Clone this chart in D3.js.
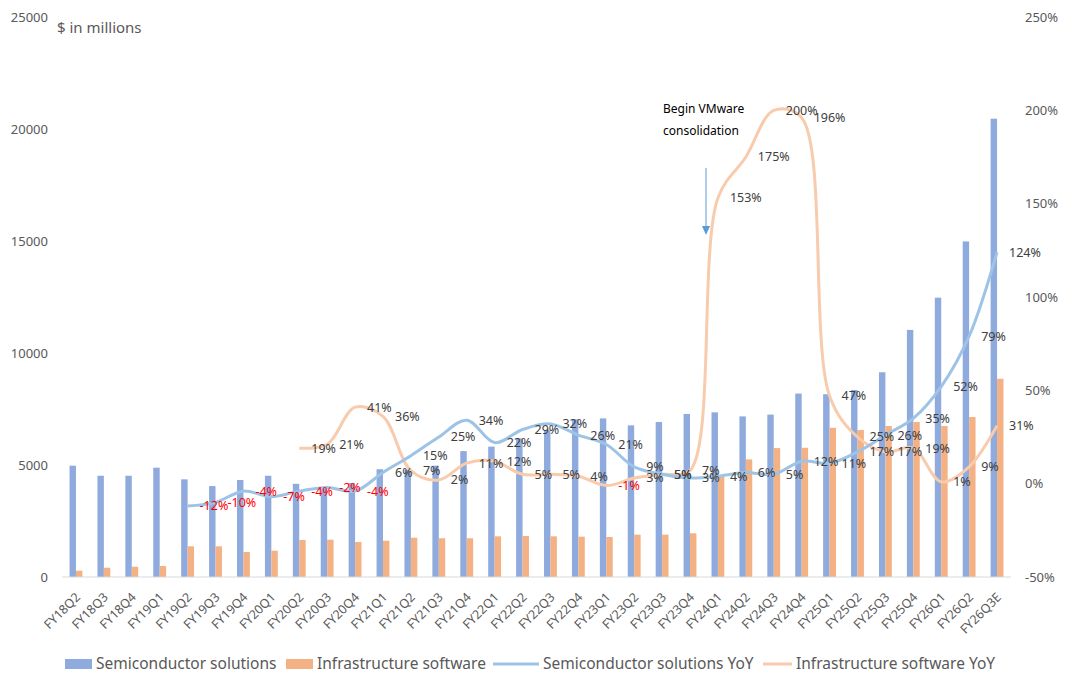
<!DOCTYPE html>
<html>
<head>
<meta charset="utf-8">
<script src="https://cdn.jsdelivr.net/npm/d3@7"></script>
<style>
  body { margin: 0; background: #fff; }
  text { font-family: "Noto Sans", "Open Sans", sans-serif; }
</style>
</head>
<body>
<div id="chart"></div>
<script>
// quarters on the x axis
var quarters = ["FY18Q2","FY18Q3","FY18Q4",
  "FY19Q1","FY19Q2","FY19Q3","FY19Q4",
  "FY20Q1","FY20Q2","FY20Q3","FY20Q4",
  "FY21Q1","FY21Q2","FY21Q3","FY21Q4",
  "FY22Q1","FY22Q2","FY22Q3","FY22Q4",
  "FY23Q1","FY23Q2","FY23Q3","FY23Q4",
  "FY24Q1","FY24Q2","FY24Q3","FY24Q4",
  "FY25Q1","FY25Q2","FY25Q3","FY25Q4",
  "FY26Q1","FY26Q2","FY26Q3E"];

// revenue, $ in millions
var semiRevenue = [4970,4520,4520,
  4880,4360,4060,4330,
  4520,4160,3990,4200,
  4810,4790,4970,5620,
  5820,6190,6550,7040,
  7080,6770,6920,7280,
  7350,7170,7250,8190,
  8160,8350,9140,11030,
  12470,14980,20460];

var softRevenue = [280,415,460,
  490,1370,1370,1115,
  1175,1650,1665,1560,
  1620,1755,1730,1730,
  1815,1830,1815,1800,
  1785,1890,1890,1950,
  4530,5250,5755,5770,
  6660,6560,6740,6920,
  6740,7140,8850];

// YoY growth in %, first value is for the start quarter
var semiYoyStart = "FY19Q2";
var semiYoy = [-12,-10,-4,
  -7,-4,-2,-4,
  6,15,25,34,
  22,29,32,26,
  21,9,5,3,
  4,6,5,12,
  11,17,26,35,
  52,79,124];

var softYoyStart = "FY20Q2";
var softYoy = [19,21,41,
  36,7,2,11,
  12,5,5,4,
  -1,3,5,7,
  153,175,200,196,
  47,25,17,19,
  1,9,31];

var leftTicks = [0,5000,10000,15000,20000,25000];
var rightTicks = [-50,0,50,100,150,200,250];

var width = 1080, height = 689;
var colors = {semi: "#8faadc", soft: "#f4b183", semiLine: "#9dc3e6", softLine: "#f8cbad"};

var svg = d3.select("#chart").append("svg")
    .attr("width", width)
    .attr("height", height);

var x = d3.scaleBand().domain(quarters).range([62, 1011]);
var yL = d3.scaleLinear().domain([0, 25000]).range([577, 17]);
var yR = d3.scaleLinear().domain([-50, 250]).range([577, 17]);

var bw = x.bandwidth() * 0.23;
function cx(q) { return x(q) + x.bandwidth() / 2; }

// tick labels
svg.append("g").selectAll("text")
    .data(leftTicks)
    .enter().append("text")
    .attr("x", 48)
    .attr("y", function(d) { return yL(d); })
    .attr("dy", "0.35em")
    .attr("text-anchor", "end")
    .style("font-size", "13px")
    .style("fill", "#595959")
    .text(function(d) { return d; });

svg.append("g").selectAll("text")
    .data(rightTicks)
    .enter().append("text")
    .attr("x", 1025)
    .attr("y", function(d) { return yR(d); })
    .attr("dy", "0.35em")
    .style("font-size", "13px")
    .style("fill", "#595959")
    .text(function(d) { return d + "%"; });

svg.append("text")
    .attr("x", 57)
    .attr("y", 28)
    .attr("dy", "0.35em")
    .style("font-size", "15px")
    .style("fill", "#595959")
    .text("$ in millions");

// bars
var bars = svg.append("g");
bars.selectAll("rect.semi")
    .data(quarters)
    .enter().append("rect")
    .attr("class", "semi")
    .attr("x", function(d) { return cx(d) - bw; })
    .attr("y", function(d, i) { return yL(semiRevenue[i]); })
    .attr("width", bw)
    .attr("height", function(d, i) { return yL(0) - yL(semiRevenue[i]); })
    .style("fill", colors.semi);

bars.selectAll("rect.soft")
    .data(quarters)
    .enter().append("rect")
    .attr("class", "soft")
    .attr("x", function(d) { return cx(d); })
    .attr("y", function(d, i) { return yL(softRevenue[i]); })
    .attr("width", bw)
    .attr("height", function(d, i) { return yL(0) - yL(softRevenue[i]); })
    .style("fill", colors.soft);

// x axis line
svg.append("line")
    .attr("x1", x.range()[0]).attr("x2", x.range()[1])
    .attr("y1", yL(0)).attr("y2", yL(0))
    .style("stroke", "#d9d9d9")
    .style("stroke-width", 1);

// x labels
svg.append("g").selectAll("text")
    .data(quarters)
    .enter().append("text")
    .attr("transform", function(d) { return "translate(" + (cx(d) + 5) + ",598) rotate(-45)"; })
    .attr("text-anchor", "end")
    .style("font-size", "12.5px")
    .style("fill", "#595959")
    .text(function(d) { return d; });

// YoY lines
function yoyPoints(start, vals) {
    var i0 = quarters.indexOf(start);
    return vals.map(function(v, i) { return {q: quarters[i0 + i], v: v}; });
}
var semiPts = yoyPoints(semiYoyStart, semiYoy);
var softPts = yoyPoints(softYoyStart, softYoy);

var line = d3.line()
    .x(function(d) { return cx(d.q); })
    .y(function(d) { return yR(d.v); })
    .curve(d3.curveCatmullRom.alpha(0.5));

svg.append("path")
    .datum(softPts)
    .attr("d", line)
    .style("fill", "none")
    .style("stroke", colors.softLine)
    .style("stroke-width", 3);

svg.append("path")
    .datum(semiPts)
    .attr("d", line)
    .style("fill", "none")
    .style("stroke", colors.semiLine)
    .style("stroke-width", 3);

// data labels, right of each point
function addLabels(pts) {
    svg.append("g").selectAll("text")
        .data(pts)
        .enter().append("text")
        .attr("x", function(d) { return cx(d.q) + 12; })
        .attr("y", function(d) { return yR(d.v); })
        .attr("dy", "0.35em")
        .style("font-size", "12.5px")
        .style("fill", function(d) { return d.v < 0 ? "#ff0000" : "#404040"; })
        .text(function(d) { return d.v + "%"; });
}
addLabels(softPts);
addLabels(semiPts);

// annotation
svg.append("text")
    .attr("x", 663).attr("y", 109)
    .attr("dy", "0.35em")
    .style("font-size", "12px")
    .style("fill", "#000")
    .text("Begin VMware");
svg.append("text")
    .attr("x", 663).attr("y", 131)
    .attr("dy", "0.35em")
    .style("font-size", "12px")
    .style("fill", "#000")
    .text("consolidation");

svg.append("line")
    .attr("x1", 706).attr("x2", 706)
    .attr("y1", 168).attr("y2", 227)
    .style("stroke", "#5b9bd5")
    .style("stroke-width", 1);
svg.append("path")
    .attr("d", "M702,226 L710,226 L706,235 Z")
    .style("fill", "#5b9bd5");

// legend
var legend = svg.append("g").style("font-size", "15.5px").style("fill", "#595959");
var items = [
    {label: "Semiconductor solutions", type: "rect", color: colors.semi, x0: 65, x1: 92, tx: 96},
    {label: "Infrastructure software", type: "rect", color: colors.soft, x0: 286, x1: 313, tx: 317},
    {label: "Semiconductor solutions YoY", type: "line", color: colors.semiLine, x0: 493, x1: 539, tx: 543},
    {label: "Infrastructure software YoY", type: "line", color: colors.softLine, x0: 763, x1: 792, tx: 796}
];
items.forEach(function(it) {
    if (it.type === "rect") {
        legend.append("rect")
            .attr("x", it.x0).attr("y", 659)
            .attr("width", it.x1 - it.x0).attr("height", 10)
            .style("fill", it.color);
    } else {
        legend.append("line")
            .attr("x1", it.x0).attr("x2", it.x1)
            .attr("y1", 664).attr("y2", 664)
            .style("stroke", it.color)
            .style("stroke-width", 3);
    }
    legend.append("text")
        .attr("x", it.tx).attr("y", 664)
        .attr("dy", "0.35em")
        .text(it.label);
});
</script>
</body>
</html>
